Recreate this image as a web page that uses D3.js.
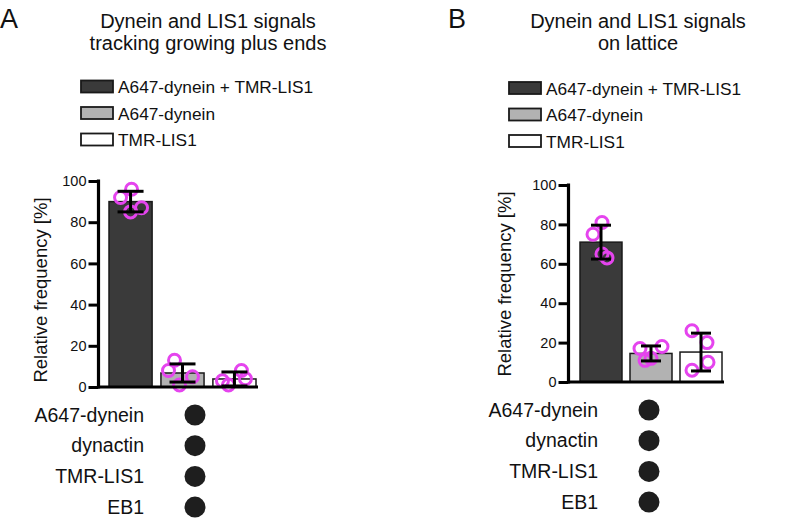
<!DOCTYPE html>
<html>
<head>
<meta charset="utf-8">
<script src="https://cdn.jsdelivr.net/npm/d3@7"></script>
<style>
  body { margin: 0; background: #fff; }
  text { font-family: "Liberation Sans", Arial, sans-serif; fill: #111; }
</style>
</head>
<body>
<svg id="fig" width="800" height="521"></svg>
<script>
// categories shared by both panels
const categories = ["A647-dynein + TMR-LIS1", "A647-dynein", "TMR-LIS1"];
const yTicks = [0, 20, 40, 60, 80, 100];
const rowLabels = ["A647-dynein", "dynactin", "TMR-LIS1", "EB1"];

// panel A: tracking growing plus ends
const meanA = [90, 6.8, 3.9];
const sdA = [5, 4.4, 3.4];
const pointsA = [[92, 96, 87, 85], [13, 8, 5, 1], [8, 3, 1, 4]];

// panel B: on lattice
const meanB = [71, 14.5, 15.2];
const sdB = [8.6, 3.8, 9.6];
const pointsB = [[81, 75, 65, 63], [17, 18, 11, 12], [26, 20, 10, 6]];

// horizontal jitter of the replicate circles (px), layout only
const jitterA = [[-10, 1, 11, 0], [-8, -14, 10, -3], [7, -12, -6, 11]];
const jitterB = [[1, -8, 1, 6], [-11, 11, -6, 0], [-9, 6, 7, -9]];

const fills = ["#3a3a3a", "#b2b2b2", "#ffffff"];
const magenta = "#e544ee";

const svg = d3.select("#fig");

function drawPanel(cfg)
{
    let g = svg.append("g");

    // panel letter and title
    g.append("text").attr("x", cfg.letterX).attr("y", 28)
        .attr("font-size", 27).text(cfg.letter);
    cfg.title.forEach(function(line, i) {
        g.append("text").attr("x", cfg.titleX).attr("y", 28 + i * 22)
            .attr("text-anchor", "middle").attr("font-size", 20).text(line);
    });

    // legend
    categories.forEach(function(c, i) {
        let ly = cfg.legendY + i * 26.5;
        g.append("rect").attr("x", cfg.legendX).attr("y", ly)
            .attr("width", 32).attr("height", 12)
            .attr("fill", fills[i]).attr("stroke", "#1a1a1a").attr("stroke-width", 1.8);
        g.append("text").attr("x", cfg.legendX + 37).attr("y", ly + 12.5)
            .attr("font-size", 17.3).text(c);
    });

    // scales
    const y = d3.scaleLinear().domain([0, 100]).range([cfg.y0, cfg.y100]);
    const x = d3.scaleBand().domain(categories)
        .range([cfg.barStart, cfg.barEnd]).paddingInner(cfg.pad).paddingOuter(0);

    // bars
    g.selectAll(".bar")
        .data(categories)
        .enter().append("rect")
        .attr("class", "bar")
        .attr("x", function(d) { return x(d); })
        .attr("width", x.bandwidth())
        .attr("y", function(d, i) { return y(cfg.mean[i]); })
        .attr("height", function(d, i) { return y(0) - y(cfg.mean[i]); })
        .attr("fill", function(d, i) { return fills[i]; })
        .attr("stroke", "#1a1a1a").attr("stroke-width", 1.5);

    // replicate circles
    categories.forEach(function(c, i) {
        let cx = x(c) + x.bandwidth() / 2;
        g.selectAll(null)
            .data(cfg.points[i])
            .enter().append("circle")
            .attr("cx", function(d, j) { return cx + cfg.jitter[i][j]; })
            .attr("cy", function(d) { return y(d); })
            .attr("r", 6)
            .attr("fill", "none")
            .attr("stroke", magenta).attr("stroke-width", 3);
    });

    // error bars (mean +/- SD)
    categories.forEach(function(c, i) {
        let cx = x(c) + x.bandwidth() / 2;
        let hi = y(cfg.mean[i] + cfg.sd[i]);
        let lo = y(Math.max(0, cfg.mean[i] - cfg.sd[i]));
        let w = cfg.capW / 2;
        let eb = g.append("g").attr("stroke", "#000").attr("stroke-width", 3);
        eb.append("line").attr("x1", cx).attr("x2", cx).attr("y1", hi).attr("y2", lo);
        eb.append("line").attr("x1", cx - w).attr("x2", cx + w).attr("y1", hi).attr("y2", hi);
        eb.append("line").attr("x1", cx - w).attr("x2", cx + w).attr("y1", lo).attr("y2", lo);
    });

    // x baseline
    g.append("line")
        .attr("x1", cfg.axisX).attr("x2", cfg.barEnd + 2)
        .attr("y1", y(0)).attr("y2", y(0))
        .attr("stroke", "#000").attr("stroke-width", 3);

    // y axis
    let ax = g.append("g")
        .attr("transform", "translate(" + cfg.axisX + ",0)")
        .call(d3.axisLeft(y).tickValues(yTicks).tickSize(10).tickPadding(2));
    ax.select(".domain").attr("stroke-width", 3.2).attr("d",
        "M0," + (y(100) - 1.5) + "V" + (y(0) + 1.5));
    ax.selectAll(".tick line").attr("stroke-width", 3);
    ax.selectAll(".tick text").attr("font-size", 14.5)
        .attr("font-family", "Liberation Sans, Arial, sans-serif").attr("fill", "#111");

    g.append("text")
        .attr("transform", "translate(" + cfg.ylabX + "," + cfg.ylabY + ") rotate(-90)")
        .attr("text-anchor", "middle").attr("font-size", 18.5)
        .text("Relative frequency [%]");

    // condition matrix below the bars
    rowLabels.forEach(function(r, i) {
        let ry = cfg.rowY + i * cfg.rowStep;
        g.append("text").attr("x", cfg.rowLabelX).attr("y", ry + 6.5)
            .attr("text-anchor", "end").attr("font-size", 19.5).text(r);
        g.append("circle").attr("cx", cfg.dotX).attr("cy", ry)
            .attr("r", 10.5).attr("fill", "#1e1e1e");
    });
}

drawPanel({
    letter: "A", letterX: 0,
    title: ["Dynein and LIS1 signals", "tracking growing plus ends"], titleX: 208,
    legendX: 81, legendY: 80.5,
    y0: 387, y100: 181, axisX: 98.5,
    barStart: 109, barEnd: 256, pad: 0.17, capW: 26,
    mean: meanA, sd: sdA, points: pointsA, jitter: jitterA,
    ylabX: 47, ylabY: 290,
    rowLabelX: 144, rowY: 415, rowStep: 30.7, dotX: 195
});

drawPanel({
    letter: "B", letterX: 448,
    title: ["Dynein and LIS1 signals", "on lattice"], titleX: 638,
    legendX: 509, legendY: 82,
    y0: 382, y100: 185, axisX: 568.5,
    barStart: 580, barEnd: 722, pad: 0.16, capW: 20,
    mean: meanB, sd: sdB, points: pointsB, jitter: jitterB,
    ylabX: 511, ylabY: 284,
    rowLabelX: 598, rowY: 410, rowStep: 30.7, dotX: 649
});
</script>
</body>
</html>
